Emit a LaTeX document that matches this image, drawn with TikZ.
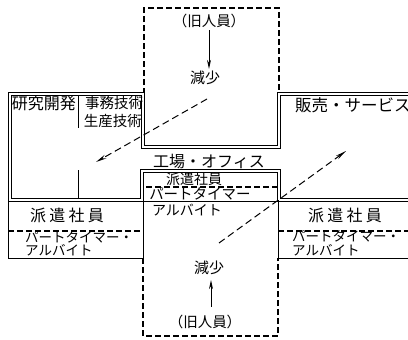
\documentclass[tikz,border=0pt]{standalone}
\usepackage{fontspec}
\setmainfont{Noto Sans CJK JP}
\newfontfamily\jpw{Noto Sans CJK JP}[LetterSpace=20]
\usetikzlibrary{arrows.meta}
\begin{document}
\begin{tikzpicture}[x=1pt,y=-1pt,
  frame/.style={double, double distance=2.6pt, line width=0.9pt},
  thin/.style={line width=1pt},
  dashline/.style={line width=1.1pt, dash pattern=on 6pt off 3pt},
  arr/.style={line width=1pt, -{Stealth[length=9pt,width=4pt]}},
  darr/.style={line width=1pt, dash pattern=on 7pt off 4pt, -{Stealth[length=11pt,width=4pt]}},
  lab/.style={inner sep=0pt, font=\fontsize{14}{14}\selectfont},
  biglab/.style={inner sep=0pt, font=\fontsize{16}{16}\selectfont}]
\useasboundingbox[fill=white] (0,0) rectangle (408,340);
% top dashed box
\draw[dashline] (144,94) -- (144,8) -- (279,8) -- (279,94);
% main double frame
\draw[frame] (412,200) -- (279,200) -- (279,171) -- (142,171) -- (142,200) -- (10,200) -- (10,94) -- (143,94) -- (143,147) -- (279,147) -- (279,94) -- (412,94);
% lower strips
\draw[thin] (8.2,200) -- (8.2,258) -- (143,258);
\draw[thin] (278,258) -- (410,258);
\draw[thin] (143,200) -- (143,258);
\draw[thin] (278,200) -- (278,258);
\draw[thin] (143,201) -- (278,201);
\draw[dashline] (8,231) -- (143,231);
\draw[dashline] (278,231) -- (410,231);
\draw[dashline] (146,187) -- (277,187);
% bottom dashed box
\draw[dashline] (143,258) -- (143,336) -- (278,336) -- (278,258);
% divider in left box
\draw[thin] (78,96) -- (78,128);
\draw[thin] (78,170) -- (78,198);
% texts
\node[lab,font=\fontsize{14.5}{14.5}\selectfont] (oldtop) at (209,21) {（旧人員）};
\node[lab,font=\fontsize{15}{15}\selectfont] (dectop) at (205,78) {減少};
\node[biglab] (factory) at (209,162) {工場・オフィス};
\node[lab] (chhaken) at (194,179) {派遣社員};
\node[lab,font=\fontsize{14.5}{14.5}\selectfont] (cpart) at (200,194) {パートタイマー};
\node[lab] (carb) at (187,210) {アルバイト};
\node[biglab] (kenkyu) at (44,103) {研究開発};
\node[lab,font=\fontsize{14.5}{14.5}\selectfont] (jimu) at (114,103) {事務技術};
\node[lab,font=\fontsize{14.5}{14.5}\selectfont] (seisan) at (113,121) {生産技術};
\node[biglab,anchor=west,font=\fontsize{16.5}{16.5}\selectfont] (hanbai) at (295,105) {販売・サービス};
\node[lab,font=\jpw\fontsize{16}{16}\selectfont] (lhaken) at (67,215) {派遣社員};
\node[lab,anchor=west,font=\fontsize{13.5}{13.5}\selectfont] (lpart) at (25,237) {パートタイマー・};
\node[lab,anchor=west,font=\fontsize{13.5}{13.5}\selectfont] (larb) at (25,250.5) {アルバイト};
\node[lab,font=\jpw\fontsize{16}{16}\selectfont] (rhaken) at (345,215) {派遣社員};
\node[lab,anchor=west,font=\fontsize{13.5}{13.5}\selectfont] (rpart) at (292,236.5) {パートタイマー・};
\node[lab,anchor=west,font=\fontsize{13.5}{13.5}\selectfont] (rarb) at (292,250.5) {アルバイト};
\node[lab,font=\fontsize{15}{15}\selectfont] (decbot) at (209,268) {減少};
\node[lab,font=\fontsize{14.5}{14.5}\selectfont] (oldbot) at (205,322) {（旧人員）};
% arrows
\draw[arr] ([yshift=-2pt]oldtop.south) -- ([yshift=2pt]oldtop.south |- dectop.north);
\draw[arr] ([xshift=6pt,yshift=8pt]oldbot.north) -- ([xshift=6pt,yshift=-5pt]oldbot.north |- decbot.south);
\coordinate (s1) at (207,99);
\coordinate (e1) at (96,162);
\coordinate (s2) at (219,243);
\coordinate (e2) at (346,151);
\draw[darr] (s1) -- (e1);
\draw[darr] (s2) -- (e2);
\end{tikzpicture}
\end{document}
